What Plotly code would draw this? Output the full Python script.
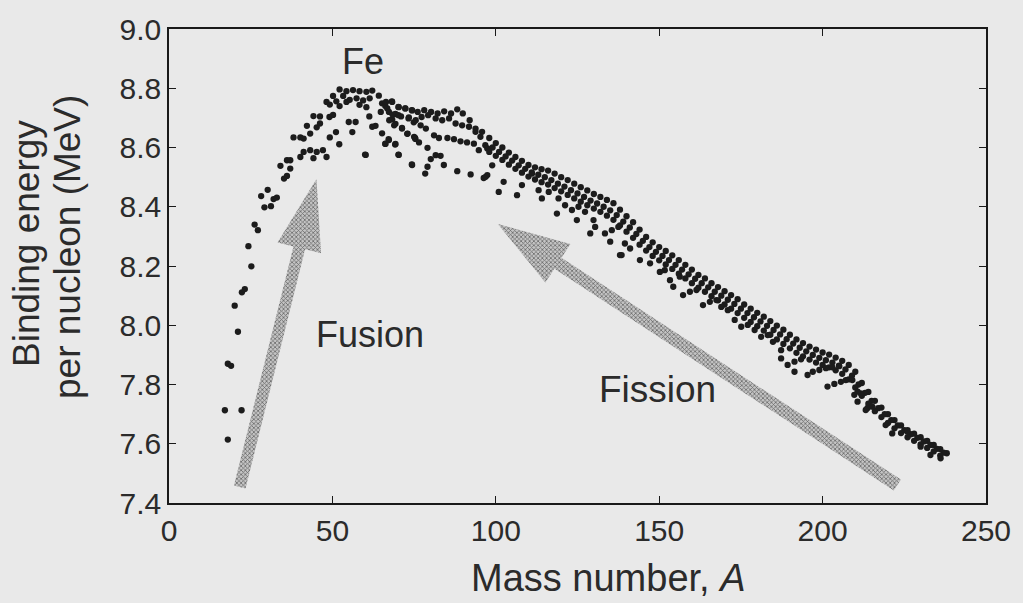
import math
import plotly.graph_objects as go

# ---------------- data ----------------
# light nuclei and the iron peak region (A, E)
LIGHT_A = [17.1, 18.0, 22.2, 18.0, 19.0, 21.1, 20.1, 22.3, 23.2, 25.2, 24.3, 26.2, 27.2, 28.2, 30.2,
           29.2, 31.2, 32.0, 33.0, 35.2, 36.1, 34.1, 37.1, 36.1, 37.1, 38.1, 40.2, 41.2, 40.2, 41.2,
           43.2, 45.2, 47.1, 44.2, 48.2, 42.2, 43.2, 44.2, 46.2, 45.2, 46.2, 49.2, 49.1, 50.2, 51.1,
           52.1, 48.2, 49.2, 50.2, 51.2, 52.2, 52.2, 54.3, 56.3, 58.3, 60.4, 62.2, 53.3, 55.3, 57.4,
           59.4, 61.4, 54.3, 58.3, 60.4, 55.0, 57.1, 56.1, 60.2, 61.3, 62.2, 63.2, 64.2, 65.2, 66.2,
           67.3, 69.3, 70.3, 74.4, 65.2, 66.2, 68.3, 67.3, 70.3, 72.3, 74.4, 68.3, 69.3, 71.3, 72.9,
           69.3, 71.0, 73.4, 74.9, 75.4]
LIGHT_E = [7.713, 7.614, 7.713, 7.870, 7.863, 7.978, 8.066, 8.111, 8.122, 8.199, 8.267, 8.340, 8.321, 8.436, 8.457,
           8.398, 8.402, 8.426, 8.431, 8.495, 8.504, 8.538, 8.529, 8.557, 8.557, 8.634, 8.634, 8.630, 8.568, 8.585,
           8.591, 8.585, 8.591, 8.564, 8.568, 8.673, 8.647, 8.706, 8.705, 8.668, 8.681, 8.634, 8.703, 8.710, 8.652,
           8.611, 8.754, 8.745, 8.774, 8.756, 8.740, 8.796, 8.790, 8.794, 8.790, 8.788, 8.792, 8.774, 8.761, 8.766,
           8.759, 8.766, 8.754, 8.744, 8.736, 8.686, 8.686, 8.652, 8.575, 8.705, 8.670, 8.673, 8.775, 8.648, 8.612,
           8.625, 8.612, 8.575, 8.541, 8.749, 8.740, 8.754, 8.720, 8.736, 8.732, 8.725, 8.695, 8.680, 8.666, 8.646,
           8.713, 8.705, 8.702, 8.685, 8.629]

# region A = 64 .. 98 (three rows plus stragglers)
MID_A = [66.4, 68.2, 64.8, 66.8, 68.4, 70.2, 72.3, 74.3, 76.1, 78.1, 80.2, 82.2, 84.2, 86.3, 88.2, 89.9, 92.0, 93.8, 95.8,
         70.2, 73.3, 75.5, 77.3, 79.3, 81.6, 83.6, 85.7, 87.7, 89.7, 91.8, 93.8, 95.3, 96.8,
         67.4, 68.9, 71.3, 73.0, 75.0, 77.0, 78.6, 81.1, 82.6, 85.2, 87.2, 89.2, 91.2, 93.3, 94.8, 97.4,
         67.2, 66.2, 69.2, 75.3, 76.5, 79.1, 81.6, 83.1, 80.1, 79.1, 78.4, 84.1, 88.2, 92.3, 96.3, 97.4, 70.2, 74.3, 60.0]
MID_E = [8.754, 8.756, 8.720, 8.732, 8.711, 8.737, 8.732, 8.726, 8.720, 8.726, 8.720, 8.715, 8.722, 8.715, 8.729, 8.715, 8.692, 8.664, 8.653,
         8.709, 8.698, 8.692, 8.703, 8.709, 8.698, 8.692, 8.698, 8.681, 8.675, 8.670, 8.653, 8.636, 8.608,
         8.692, 8.675, 8.664, 8.647, 8.636, 8.675, 8.664, 8.641, 8.632, 8.632, 8.628, 8.621, 8.617, 8.613, 8.591, 8.597,
         8.628, 8.613, 8.610, 8.632, 8.617, 8.599, 8.574, 8.572, 8.561, 8.535, 8.512, 8.541, 8.520, 8.509, 8.497, 8.507, 8.576, 8.543, 8.576]

# heavy-nuclei band: top row (even A from 98), middle row (odd A from 99), lower row (even A from 98)
BAND_TOP_E = [8.632, 8.615, 8.600, 8.583, 8.568, 8.555, 8.541, 8.533, 8.527, 8.522, 8.512, 8.500, 8.490, 8.478,
              8.466, 8.455, 8.443, 8.433, 8.423, 8.412, 8.390, 8.368, 8.348, 8.323, 8.298, 8.280, 8.264, 8.251,
              8.236, 8.220, 8.204, 8.188, 8.170, 8.158, 8.142, 8.129, 8.115, 8.102, 8.088, 8.070, 8.056, 8.042,
              8.029, 8.014, 7.999, 7.985, 7.968, 7.952, 7.940, 7.928, 7.918, 7.908, 7.901, 7.891, 7.880, 7.866,
              7.843, 7.805, 7.775, 7.745, 7.722, 7.700, 7.680, 7.662, 7.646, 7.634, 7.622, 7.610, 7.596, 7.582, 7.568]
BAND_MID_E = [8.600, 8.585, 8.570, 8.556, 8.540, 8.528, 8.516, 8.508, 8.500, 8.490, 8.478, 8.468, 8.456, 8.445,
              8.433, 8.421, 8.411, 8.400, 8.388, 8.372, 8.350, 8.330, 8.308, 8.285, 8.264, 8.248, 8.234, 8.220,
              8.204, 8.188, 8.172, 8.157, 8.142, 8.128, 8.113, 8.100, 8.086, 8.072, 8.056, 8.041, 8.027, 8.013,
              7.998, 7.984, 7.969, 7.953, 7.938, 7.924, 7.912, 7.900, 7.890, 7.882, 7.874, 7.864, 7.851, 7.830,
              7.800, 7.772, 7.745, 7.720, 7.700, 7.680, 7.662, 7.646, 7.632, 7.620, 7.608, 7.596, 7.583, 7.570]
BAND_LOW_E = [8.585, 8.572, 8.558, 8.542, 8.528, 8.515, 8.502, 8.492, 8.483, 8.475, 8.463, 8.452, 8.440, 8.428,
              8.417, 8.405, 8.394, 8.383, 8.370, 8.356, 8.337, 8.316, 8.295, 8.272, 8.252, 8.234, 8.219, 8.205,
              8.190, 8.174, 8.158, 8.142, 8.127, 8.113, 8.098, 8.084, 8.070, 8.056, 8.041, 8.025, 8.011, 7.997,
              7.982, 7.968, 7.952, 7.937, 7.922, 7.907, 7.895, 7.884, 7.874, 7.866, 7.858, 7.848, 7.836, 7.817,
              7.790, 7.762, 7.735, 7.710, 7.690, 7.670, 7.652, 7.636, 7.622, 7.610, 7.598, 7.586, 7.574, 7.560]
BAND_TOP_A = list(range(98, 98 + 2 * len(BAND_TOP_E), 2))
BAND_MID_A = list(range(99, 99 + 2 * len(BAND_MID_E), 2))
BAND_LOW_A = list(range(98, 98 + 2 * len(BAND_LOW_E), 2))

# less-bound isotopes scattered below the band
OUT_A = [96.9, 98.9, 100.9, 102.4, 106.5, 108.0, 111.1, 113.1, 114.1, 116.2, 118.7, 119.2, 121.2, 123.3, 124.8,
         125.3, 127.3, 128.9, 129.9, 130.4, 133.4, 135.0, 135.5, 137.5, 138.5, 139.5,
         138.0, 141.1, 144.1, 147.2, 150.2, 151.7, 153.3, 154.3, 156.3, 157.3, 159.4, 161.4, 163.4, 165.5,
         167.5, 169.0, 171.0, 173.1, 175.1, 177.1, 179.2, 181.2,
         183.2, 184.8, 187.3, 187.3, 189.3, 191.4, 191.4, 193.4, 195.4, 197.0, 199.0, 201.0, 203.0, 205.1,
         201.5, 203.6, 205.6, 207.1, 209.1, 209.7, 210.7, 211.7, 213.7, 215.2,
         213.2, 219.3, 221.3, 225.9, 230.0, 233.0, 236.1, 210.7]
OUT_E = [8.501, 8.540, 8.450, 8.484, 8.439, 8.473, 8.512, 8.456, 8.428, 8.450, 8.377, 8.428, 8.405, 8.389, 8.355,
         8.400, 8.383, 8.310, 8.355, 8.332, 8.310, 8.282, 8.321, 8.332, 8.237, 8.276,
         8.237, 8.259, 8.220, 8.209, 8.180, 8.186, 8.152, 8.130, 8.164, 8.102, 8.113, 8.119, 8.068, 8.079,
         8.085, 8.062, 8.051, 8.018, 7.995, 8.001, 7.984, 7.961,
         7.967, 7.944, 7.916, 7.888, 7.866, 7.877, 7.843, 7.885, 7.832, 7.843, 7.849, 7.855, 7.858, 7.862,
         7.793, 7.802, 7.809, 7.815, 7.815, 7.765, 7.742, 7.770, 7.720, 7.725,
         7.714, 7.663, 7.635, 7.641, 7.590, 7.562, 7.551, 7.776]

X_TICKS = [0, 50, 100, 150, 200, 250]
Y_TICKS = [7.4, 7.6, 7.8, 8.0, 8.2, 8.4, 8.6, 8.8, 9.0]

# ---------------- layout constants ----------------
W, H = 1023, 603
ML, MR, MT, MB = 169, 34, 29, 100
XR = [0, 250]
YR = [7.4, 9.0]
BG = "#e9e9e9"
INK = "#2b2b2b"
FONT = "Liberation Sans"

PW = W - ML - MR
PH = H - MT - MB


def px_to_data(px, py):
    x = XR[0] + (px - ML) * (XR[1] - XR[0]) / PW
    y = YR[1] - (py - MT) * (YR[1] - YR[0]) / PH
    return x, y


def arrow_polygon(tail, tip, shaft_w, head_w, head_len):
    tx, ty = tail
    hx, hy = tip
    dx, dy = hx - tx, hy - ty
    L = math.hypot(dx, dy)
    ux, uy = dx / L, dy / L
    nx, ny = -uy, ux
    bx, by = hx - ux * head_len, hy - uy * head_len
    pts = [
        (tx + nx * shaft_w / 2, ty + ny * shaft_w / 2),
        (bx + nx * shaft_w / 2, by + ny * shaft_w / 2),
        (bx + nx * head_w / 2, by + ny * head_w / 2),
        (hx, hy),
        (bx - nx * head_w / 2, by - ny * head_w / 2),
        (bx - nx * shaft_w / 2, by - ny * shaft_w / 2),
        (tx - nx * shaft_w / 2, ty - ny * shaft_w / 2),
        (tx + nx * shaft_w / 2, ty + ny * shaft_w / 2),
    ]
    xs, ys = zip(*[px_to_data(p[0], p[1]) for p in pts])
    return list(xs), list(ys)


# arrow geometry in page pixels (tail, tip, shaft width, head width, head length)
FUSION_ARROW = ((240, 487), (317, 179), 12, 45, 71)
FISSION_ARROW = ((900, 485), (499, 224), 13, 46, 72)

fig = go.Figure()

for arr in (FUSION_ARROW, FISSION_ARROW):
    ax, ay = arrow_polygon(*arr)
    fig.add_trace(go.Scatter(
        x=ax, y=ay, mode="lines", fill="toself",
        line=dict(width=0, color="rgba(0,0,0,0)"),
        fillcolor="#a3a3a3",
        fillpattern=dict(shape="x", size=3, solidity=0.45, fgcolor="#6a6a6a", bgcolor="#c4c4c4",
                         fillmode="replace"),
        hoverinfo="skip", showlegend=False))

all_A = LIGHT_A + MID_A + BAND_TOP_A + BAND_MID_A + BAND_LOW_A + OUT_A
all_E = LIGHT_E + MID_E + BAND_TOP_E + BAND_MID_E + BAND_LOW_E + OUT_E

fig.add_trace(go.Scatter(
    x=all_A, y=all_E, mode="markers",
    marker=dict(size=6.3, color="#1c1c1c", line=dict(width=0)),
    showlegend=False, hoverinfo="x+y"))

axis_common = dict(
    showgrid=False, zeroline=False, showline=True, linecolor="#1a1a1a", linewidth=1.6,
    mirror="ticks", ticks="inside", ticklen=7, tickwidth=1.4, tickcolor="#1a1a1a",
    tickfont=dict(family=FONT, size=30, color=INK),
)

fig.update_xaxes(range=XR, tickvals=X_TICKS, ticktext=[str(v) for v in X_TICKS], **axis_common)
fig.update_yaxes(range=YR, tickvals=Y_TICKS, ticktext=[f"{v:.1f}" for v in Y_TICKS], **axis_common)

fx, fy = px_to_data(364, 61)
fusx, fusy = px_to_data(371, 334)
fisx, fisy = px_to_data(659, 389)

annotations = [
    dict(x=fx, y=fy, text="Fe", showarrow=False, font=dict(family=FONT, size=36, color=INK),
         xanchor="center", yanchor="middle"),
    dict(x=fusx, y=fusy, text="Fusion", showarrow=False, font=dict(family=FONT, size=36, color=INK),
         xanchor="center", yanchor="middle"),
    dict(x=fisx, y=fisy, text="Fission", showarrow=False, font=dict(family=FONT, size=37, color=INK),
         xanchor="center", yanchor="middle"),
    dict(xref="paper", yref="paper", x=0.5, y=0, xshift=31, yshift=-75, text="Mass number, <i>A</i>",
         showarrow=False, font=dict(family=FONT, size=38, color=INK), xanchor="center", yanchor="middle"),
    dict(xref="paper", yref="paper", x=0, y=0.5, xshift=-143, yshift=22, text="Binding energy",
         textangle=-90, showarrow=False, font=dict(family=FONT, size=37, color=INK),
         xanchor="center", yanchor="middle"),
    dict(xref="paper", yref="paper", x=0, y=0.5, xshift=-102, yshift=19, text="per nucleon (MeV)",
         textangle=-90, showarrow=False, font=dict(family=FONT, size=37, color=INK),
         xanchor="center", yanchor="middle"),
]

fig.update_layout(
    width=W, height=H, autosize=False,
    margin=dict(l=ML, r=MR, t=MT, b=MB, pad=0),
    paper_bgcolor=BG, plot_bgcolor=BG,
    annotations=annotations,
    showlegend=False,
)

fig.write_html(
    "out.html",
    config={"displayModeBar": False},
    post_script="document.body.style.margin='0';document.body.style.padding='0';"
                "document.body.style.background='" + BG + "';",
)
